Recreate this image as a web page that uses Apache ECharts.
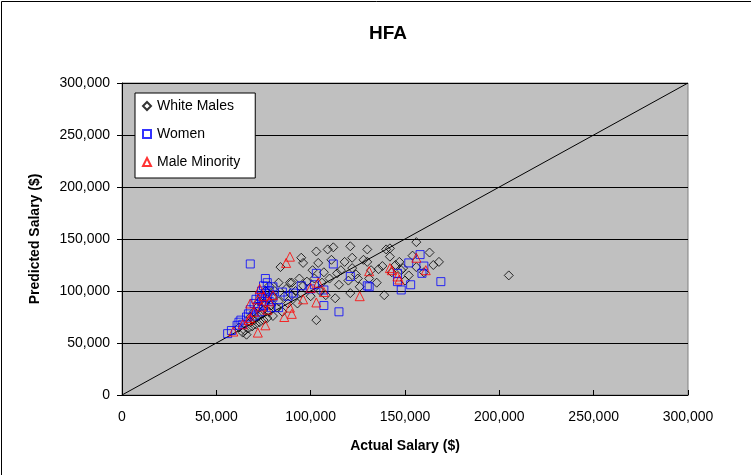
<!DOCTYPE html>
<html><head><meta charset="utf-8">
<script src="https://cdn.jsdelivr.net/npm/echarts@6/dist/echarts.min.js"></script>
<style>html,body{margin:0;padding:0;background:#fff}#c{width:751px;height:475px}</style>
</head><body><div id="c"></div>
<script>
// values in thousands of dollars: [actual, predicted]
const whiteMales = [[62,65],[64,60],[65,62],[66,58],[67,64],[68,70],[68,75],[69,66],[70,72],[70,80],[71,68],[72,76],[72,85],[73,70],[73,90],[74,78],[74,95],[75,72],[75,82],[76,88],[76,100],[77,74],[77,92],[78,80],[78,105],[79,86],[80,76],[80,95],[81,100],[82,84],[83,90],[83,108],[84,123],[85,80],[86,95],[87,102],[88,88],[89,108],[90,108],[90,96],[92,100],[93,88],[94,112],[95,132],[95,98],[96,105],[96,127],[98,109],[100,95],[101,120],[102,112],[103,72],[103,138],[104,127],[105,100],[106,108],[107,118],[108,96],[109,140],[110,112],[111,130],[112,142],[113,93],[114,117],[115,106],[116,120],[118,128],[120,110],[121,143],[121,98],[122,122],[122,132],[124,116],[125,112],[126,104],[128,130],[130,140],[130,128],[131,112],[132,120],[135,108],[136,121],[138,124],[139,96],[140,140],[142,133],[142,141],[143,118],[145,125],[147,128],[148,120],[149,122],[150,110],[152,115],[154,134],[156,147],[156,123],[160,118],[163,137],[165,125],[168,128],[205,115]];
const women = [[56,59],[58,62],[61,67],[62,70],[63,72],[64,68],[66,75],[67,78],[68,126],[68,82],[70,88],[70,76],[71,92],[72,85],[73,95],[73,80],[74,100],[74,90],[75,105],[75,86],[76,98],[76,112],[77,108],[77,94],[78,90],[78,100],[79,84],[80,94],[80,104],[83,84],[85,99],[88,95],[91,98],[95,105],[100,102],[102,106],[103,117],[107,101],[107,86],[112,126],[115,80],[121,114],[130,105],[131,104],[146,117],[146,109],[148,101],[152,127],[153,106],[158,135],[159,117],[160,124],[169,109]];
const maleMinority = [[59,61],[64,68],[67,72],[68,88],[68,74],[70,80],[72,60],[72,92],[73,102],[74,85],[75,95],[76,67],[77,82],[78,90],[80,96],[86,75],[87,127],[89,133],[89,84],[90,78],[96,92],[100,103],[103,89],[104,108],[107,99],[126,95],[131,119],[142,122],[143,120],[146,114],[147,111],[156,132],[161,120]];
const equalityLine = [[0,0],[300,300]];
const seriesNames = ['White Males','Women','Male Minority'];
const scale = 1000;
const toDollars = a => a.map(p => [p[0]*scale, p[1]*scale]);

const chart = echarts.init(document.getElementById('c'));
const font = '"Liberation Sans", Arial, sans-serif';
const hollow = c => ({color:'rgba(0,0,0,0)', borderColor:c, borderWidth:1});
chart.setOption({
  animation:false,
  backgroundColor:'#fff',
  textStyle:{fontFamily:font},
  title:{text:'HFA', left:383, top:19, textAlign:'center', textStyle:{fontFamily:font, fontSize:19, fontWeight:'bold', color:'#000'}},
  graphic:[{type:'rect', shape:{x:1.5,y:1.5,width:800,height:800}, style:{fill:null, stroke:'#000', lineWidth:1}, z:100}],
  legend:{
    orient:'vertical', left:135, top:93, backgroundColor:'#fff', borderColor:'#000', borderWidth:1,
    padding:[6,15,9,7], itemGap:14, itemWidth:8, itemHeight:8,
    textStyle:{fontFamily:font, fontSize:14, color:'#000', padding:[0,0,0,1]},
    data:seriesNames
  },
  grid:{left:122, right:63, top:83, bottom:80, show:true, backgroundColor:'#c0c0c0', borderColor:'#808080', borderWidth:1},
  xAxis:{
    type:'value', min:0, max:300000, interval:50000,
    name:'Actual Salary ($)', nameLocation:'middle', nameGap:44,
    nameTextStyle:{fontFamily:font, fontSize:14, fontWeight:'bold', color:'#000'},
    axisLine:{show:true, onZero:false, lineStyle:{color:'#000'}},
    axisTick:{show:true, inside:true, length:5, lineStyle:{color:'#000'}},
    axisLabel:{margin:15, fontFamily:font, fontSize:14, color:'#000', formatter:v=>v.toLocaleString('en-US')},
    splitLine:{show:false}
  },
  yAxis:{
    type:'value', min:0, max:300000, interval:50000,
    name:'Predicted Salary ($)', nameLocation:'middle', nameGap:80,
    nameTextStyle:{fontFamily:font, fontSize:14, fontWeight:'bold', color:'#000'},
    axisLine:{show:true, onZero:false, lineStyle:{color:'#000'}},
    axisTick:{show:true, inside:false, length:5, lineStyle:{color:'#000'}},
    axisLabel:{margin:12, fontFamily:font, fontSize:14, color:'#000', formatter:v=>v.toLocaleString('en-US')},
    splitLine:{show:true, lineStyle:{color:'#000', width:1}}
  },
  series:[
    {name:'Equality', type:'line', data:toDollars(equalityLine), symbol:'none', lineStyle:{color:'#000', width:1}, z:1, silent:true},
    {name:seriesNames[0], type:'scatter', data:toDollars(whiteMales), symbol:'diamond', symbolSize:[9,9], itemStyle:hollow('#000'), z:2},
    {name:seriesNames[1], type:'scatter', data:toDollars(women), symbol:'rect', symbolSize:8, itemStyle:hollow('#0000ff'), z:3},
    {name:seriesNames[2], type:'scatter', data:toDollars(maleMinority), symbol:'triangle', symbolSize:9, itemStyle:hollow('#ff0000'), z:4}
  ]
});
</script></body></html>
